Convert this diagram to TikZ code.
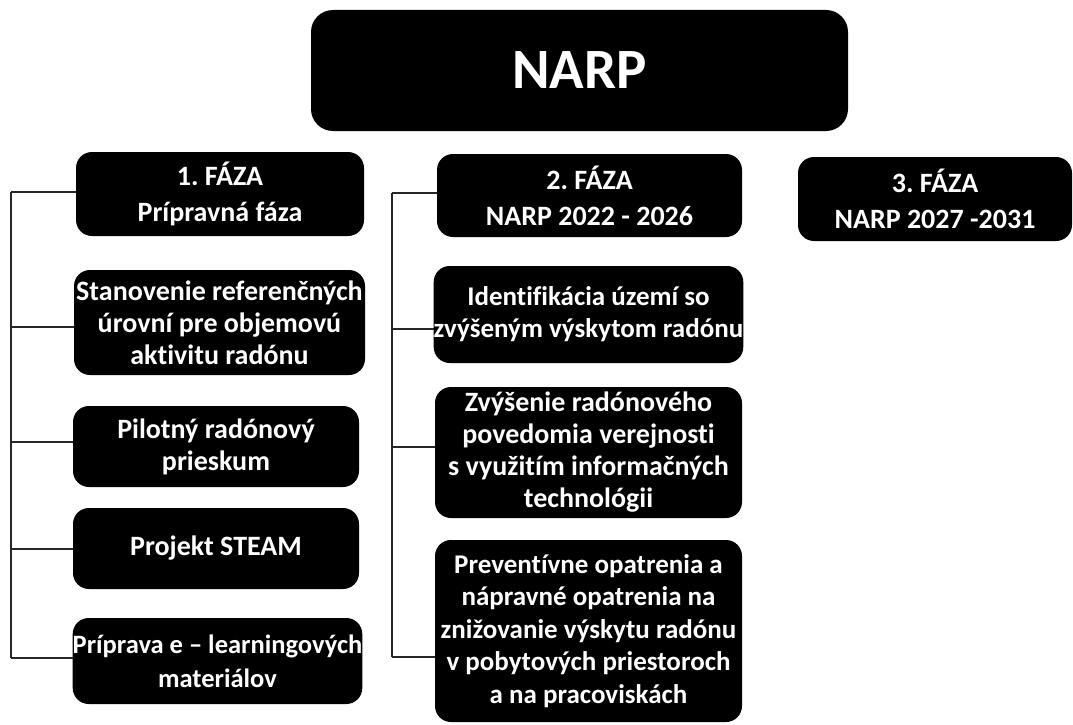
\documentclass[tikz,border=0pt]{standalone}
\usepackage{fontspec}
\setmainfont{Carlito}[Ligatures=NoCommon]
\frenchspacing
\begin{document}
\begin{tikzpicture}[x=1pt,y=-1pt,
  blk/.style={fill=black,text=white,rounded corners=16pt,inner xsep=0pt,inner ysep=0pt,
    align=center,font=\fontsize{28}{32}\selectfont\bfseries},
  head/.style={blk,font=\fontsize{28}{36}\selectfont\bfseries},
  conn/.style={draw=black!85,line width=1.1pt}]
\useasboundingbox (0,0) rectangle (1073,725);
\node[blk,rounded corners=22pt,minimum width=537pt,minimum height=121pt,
  font=\fontsize{57}{62}\selectfont\bfseries] (narp) at (579.5,70.5) {NARP};
\node[head,minimum width=288pt,minimum height=84pt] (f1) at (220,194) {1. FÁZA\\Prípravná fáza};
\node[head,minimum width=305pt,minimum height=83pt] (f2) at (589.5,195.5) {2. FÁZA\\NARP 2022 - 2026};
\node[head,minimum width=274pt,minimum height=84pt] (f3) at (935,199) {3. FÁZA\\NARP 2027 -2031};
\node[blk,minimum width=291pt,minimum height=105pt] (s1) at (219.5,322.5) {Stanovenie referenčných\\úrovní pre objemovú\\aktivitu radónu};
\node[blk,minimum width=286pt,minimum height=81pt] (s2) at (216,446.5) {Pilotný radónový\\prieskum};
\node[blk,minimum width=286pt,minimum height=81pt] (s3) at (216,548.5) {Projekt STEAM};
\node[blk,minimum width=289pt,minimum height=86pt,font=\fontsize{26.5}{34}\selectfont\bfseries] (s4) at (217.5,661) {Príprava e – learningových\\materiálov};
\node[blk,minimum width=309pt,minimum height=97pt,font=\fontsize{27}{32}\selectfont\bfseries] (t1) at (588.5,314.5) {Identifikácia území so\\zvýšeným výskytom radónu};
\node[blk,minimum width=307pt,minimum height=131pt] (t2) at (588.5,452.5) {Zvýšenie radónového\\povedomia verejnosti\\s využitím informačných\\technológii};
\node[blk,minimum width=307pt,minimum height=182pt,font=\fontsize{27}{32.5}\selectfont\bfseries] (t3) at (588.5,631) {Preventívne opatrenia a\\nápravné opatrenia na\\znižovanie výskytu radónu\\v pobytových priestoroch\\a na pracoviskách};
% left bus
\coordinate (la) at (11,192);
\coordinate (lb) at (11,658);
\draw[conn] (la) -- (lb);
\draw[conn] ([yshift=2pt]f1.west) -- ([yshift=2pt]f1.west -| la);
\draw[conn] ([yshift=-4.5pt]s1.west) -- ([yshift=-4.5pt]s1.west -| la);
\draw[conn] ([yshift=4.5pt]s2.west) -- ([yshift=4.5pt]s2.west -| la);
\draw[conn] ([yshift=-0.5pt]s3.west) -- ([yshift=-0.5pt]s3.west -| la);
\draw[conn] ([yshift=3pt]s4.west) -- ([yshift=3pt]s4.west -| la);
% middle bus
\coordinate (ma) at (392,193);
\coordinate (mb) at (392,657);
\draw[conn] (ma) -- (mb);
\draw[conn] ([yshift=2.5pt]f2.west) -- ([yshift=2.5pt]f2.west -| ma);
\draw[conn] ([yshift=-14.5pt]t1.west) -- ([yshift=-14.5pt]t1.west -| ma);
\draw[conn] ([yshift=5.5pt]t2.west) -- ([yshift=5.5pt]t2.west -| ma);
\draw[conn] ([yshift=-26pt]t3.west) -- ([yshift=-26pt]t3.west -| ma);
\end{tikzpicture}
\end{document}
